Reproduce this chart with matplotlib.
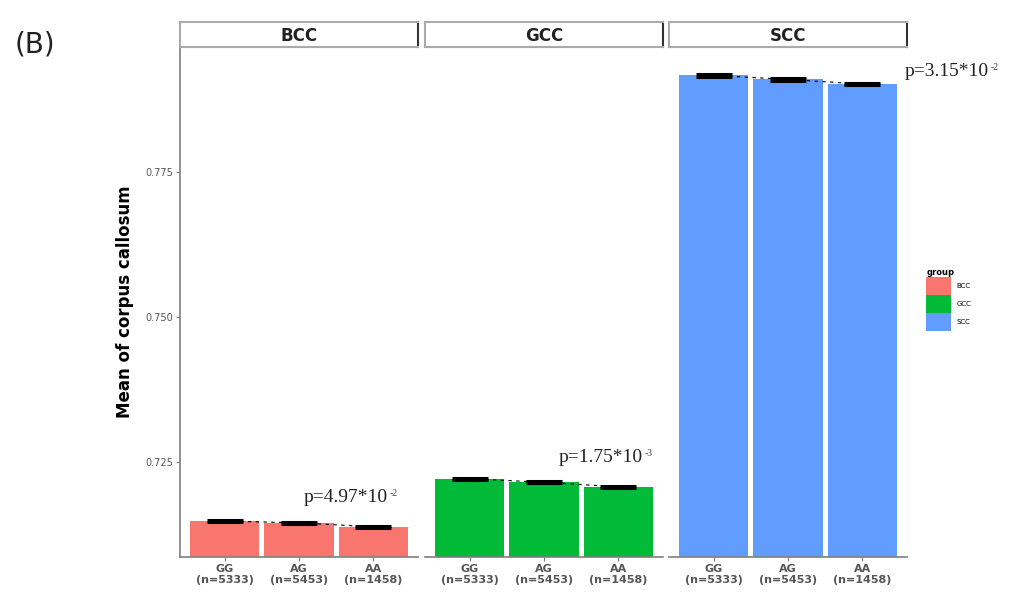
import matplotlib.pyplot as plt
from matplotlib.patches import Patch

# data
regions = ["BCC", "GCC", "SCC"]
genotypes = ["GG", "AG", "AA"]
counts = ["n=5333", "n=5453", "n=1458"]
bcc_means = [0.7148, 0.7145, 0.7138]
gcc_means = [0.7221, 0.7215, 0.7207]
scc_means = [0.7917, 0.7910, 0.7902]
bcc_se = [0.0002, 0.0002, 0.0002]
gcc_se = [0.0002, 0.0002, 0.0002]
scc_se = [0.0002, 0.0002, 0.0002]
p_values = ["p=4.97*10", "p=1.75*10", "p=3.15*10"]
p_exps = ["-2", "-3", "-2"]
colors = ["#F8766D", "#00BA38", "#619CFF"]

means = [bcc_means, gcc_means, scc_means]
ses = [bcc_se, gcc_se, scc_se]
ylo, yhi = 0.7086, 0.7966

fig = plt.figure(figsize=(10.26, 6.01), dpi=100)
W, H = 1026, 601
panel_left = [180, 425, 669]
panel_w = 238
top, bottom = 47, 557
grey = "#7f7f7f"

# p label positions (pixels: x of left edge, y)
p_pos = [(304, 498), (559, 458), (905, 72)]

for i, reg in enumerate(regions):
    ax = fig.add_axes([panel_left[i] / W, 1 - bottom / H, panel_w / W, (bottom - top) / H])
    x = list(range(len(genotypes)))
    ax.bar(x, [m - ylo for m in means[i]], bottom=ylo, width=0.93, color=colors[i], zorder=2)
    ax.plot(x, means[i], ls=(0, (3, 4)), color="black", lw=0.8, zorder=3)
    ax.errorbar(x, means[i], yerr=ses[i], fmt="none", ecolor="black",
                capsize=13, elinewidth=1.5, capthick=2.2, zorder=4)
    ax.set_xlim(-0.6, 2.6)
    ax.set_ylim(ylo, yhi)
    ax.set_xticks(x)
    ax.set_xticklabels([f"{g}\n({c})" for g, c in zip(genotypes, counts)],
                       fontsize=8, color="#555555", fontweight="bold", linespacing=1.15)
    ax.tick_params(axis="x", length=3, color=grey, pad=2)
    for s in ["top", "right"]:
        ax.spines[s].set_visible(False)
    ax.spines["bottom"].set_color(grey)
    ax.spines["bottom"].set_linewidth(1.2)
    if i == 0:
        ax.set_yticks([0.725, 0.750, 0.775])
        ax.set_yticklabels(["0.725", "0.750", "0.775"], fontsize=7, color="#555555")
        ax.tick_params(axis="y", length=3, color=grey, pad=2)
        ax.spines["left"].set_color(grey)
        ax.spines["left"].set_linewidth(1.2)
        ax.set_ylabel("Mean of corpus callosum", fontsize=12, fontweight="bold", labelpad=8)
    else:
        ax.set_yticks([])
        ax.spines["left"].set_visible(False)

    # facet strip
    st = fig.add_axes([panel_left[i] / W, 1 - top / H, panel_w / W, 25 / H])
    st.set_xticks([])
    st.set_yticks([])
    for s in st.spines.values():
        s.set_color("#aaaaaa")
        s.set_linewidth(1.5)
    st.spines["right"].set_color("#333333")
    st.text(0.5, 0.45, reg, ha="center", va="center", fontsize=12, fontweight="bold", color="#222222")

    # p value with a small exponent
    px, py = p_pos[i]
    t = fig.text(px / W, 1 - py / H, p_values[i], ha="left", va="center", fontsize=14,
                 family="Liberation Serif", color="#222222")
    ax.annotate(p_exps[i], xy=(1.0, 0.75), xycoords=t, xytext=(1, 0), textcoords="offset points",
                fontsize=7, family="Liberation Serif", color="#444444", va="center", ha="left",
                annotation_clip=False)

fig.text(15 / W, 1 - 45 / H, "(B)", fontsize=20, va="center", ha="left", color="#222222")

handles = [Patch(facecolor=c, label=r) for c, r in zip(colors, regions)]
leg = fig.legend(handles=handles, loc="upper left", bbox_to_anchor=(920 / W, 1 - 262 / H),
                 frameon=False, fontsize=5, title="group", title_fontsize=6,
                 handlelength=3.6, handleheight=3.6, labelspacing=0.0, handletextpad=0.8,
                 alignment="left")
leg.get_title().set_fontweight("bold")

fig.savefig("out.png", dpi=100)
